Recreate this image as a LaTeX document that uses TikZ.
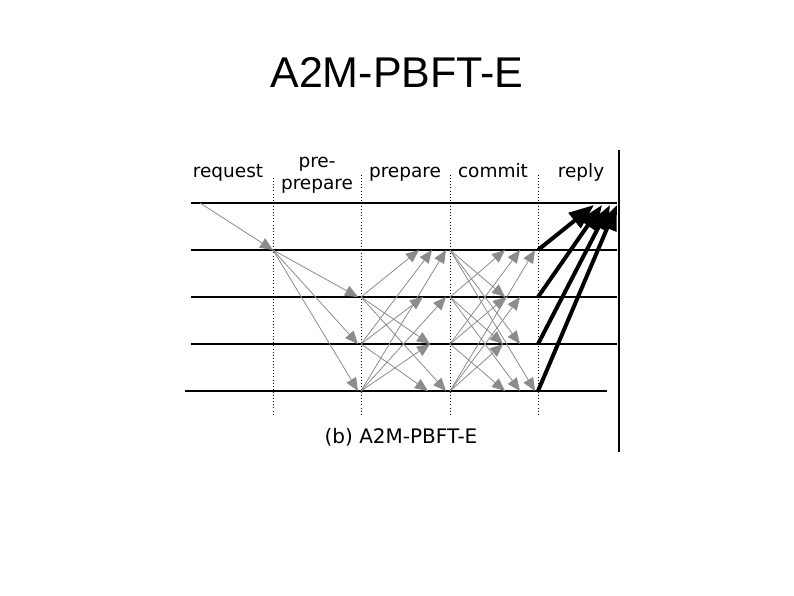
\documentclass[tikz,border=0pt]{standalone}
\usepackage{fontspec}
\newfontfamily\titlefont{Liberation Sans}
\newfontfamily\lblfont{DejaVu Sans}
\usetikzlibrary{arrows.meta}
\definecolor{msg}{gray}{0.55}
\begin{document}
\begin{tikzpicture}[x=1pt,y=-1pt,
  rowline/.style={black, line width=1.2pt},
  phaseline/.style={black, line width=0.9pt, dash pattern=on 0.9pt off 2.2pt},
  msgarrow/.style={draw=msg, line width=0.8pt, -{Triangle[length=13pt,width=11pt]}},
  replyarrow/.style={black, line width=4pt, -{Triangle[length=25pt,width=19pt]}},
  lbl/.style={inner sep=0pt, anchor=base, font=\lblfont\fontsize{18.5}{22}\selectfont},
  caplbl/.style={inner sep=0pt, anchor=base, font=\lblfont\fontsize{20}{24}\selectfont},
  titlelbl/.style={inner sep=0pt, anchor=base, font=\titlefont\fontsize{43}{50}\selectfont}]
\useasboundingbox (0,0) rectangle (794,595);

% title
\node[titlelbl] (title) at (397,87) {A2M-PBFT-E};

% phase labels
\node[lbl] (lreq) at (228,177) {request};
\node[lbl] (lpre1) at (317,167) {pre-};
\node[lbl] (lpre2) at (317,189) {prepare};
\node[lbl] (lprep) at (405,177) {prepare};
\node[lbl] (lcom) at (493,177) {commit};
\node[lbl] (lrep) at (581,177) {reply};

% caption
\node[caplbl] (cap) at (401,443) {(b) A2M-PBFT-E};

% horizontal timelines
\foreach \n/\y in {c/203,0/250,1/297,2/344} {
  \coordinate (hl\n) at (191,\y);
  \coordinate (hr\n) at (617,\y);
  \draw[rowline] (hl\n) -- (hr\n);
}
\coordinate (hl3) at (185,391);
\coordinate (hr3) at (607,391);
\draw[rowline] (hl3) -- (hr3);

% dotted phase separators
\foreach \n/\x/\t in {a/273/178,b/361/175,c/450/175,d/538/175} {
  \coordinate (vt\n) at (\x,\t);
  \coordinate (vb\n) at (\x,415);
  \draw[phaseline] (vt\n) -- (vb\n);
}

% right border line
\coordinate (bt) at (619,150);
\coordinate (bb) at (619,452);
\draw[black, line width=1.2pt] (bt) -- (bb);

% replica points
\foreach \i/\y in {0/250,1/297,2/344,3/391} {
  \coordinate (p\i) at (361,\y);
  \coordinate (c\i) at (450,\y);
  \coordinate (s\i) at (538,\y);
}
\coordinate (client) at (200,203);
\coordinate (primary) at (273,250);

% request
\draw[msgarrow] (client) -- (primary);

% pre-prepare
\foreach \i/\y in {1/297,2/344,3/391} {
  \coordinate (pp\i) at (358,\y);
  \draw[msgarrow] (primary) -- (pp\i);
}

% prepare
\foreach \s/\d/\tx/\ty in {1/0/419/250,2/0/432/250,3/0/446/250,
                          2/1/423/297,3/1/446/297,
                          1/2/430/344,3/2/430/344,
                          2/3/428/391,1/3/446/391} {
  \coordinate (pt\s\d) at (\tx,\ty);
  \draw[msgarrow] (p\s) -- (pt\s\d);
}

% commit
\foreach \s/\d/\tx/\ty in {1/0/505/250,2/0/520/250,3/0/535/250,
                          0/1/505/297,2/1/506/297,3/1/520/297,
                          1/2/503/344,3/2/503/344,0/2/520/344,
                          2/3/505/391,1/3/520/391,0/3/535/391} {
  \coordinate (ct\s\d) at (\tx,\ty);
  \draw[msgarrow] (c\s) -- (ct\s\d);
}

% reply
\foreach \s/\tx in {0/594,1/602,2/610,3/617} {
  \coordinate (rt\s) at (\tx,205);
  \draw[replyarrow] (s\s) -- (rt\s);
}
\end{tikzpicture}
\end{document}
